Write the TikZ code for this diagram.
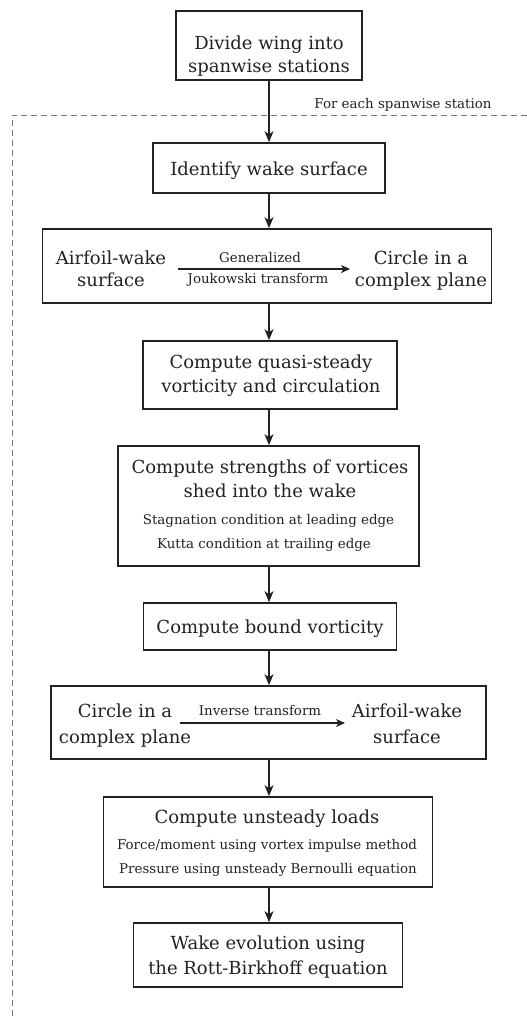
\documentclass[tikz,border=0pt]{standalone}
\usepackage{fontspec}
\setmainfont{DejaVu Serif}
\usetikzlibrary{arrows.meta}
\definecolor{ink}{HTML}{222222}
\definecolor{dashgray}{HTML}{777777}
\newcommand{\bigtxt}{\fontsize{18}{22}\selectfont}
\newcommand{\smtxt}{\fontsize{13.4}{16}\selectfont}
\tikzset{
  stepbox/.style={draw=ink, line width=1.6pt, rectangle, inner sep=0pt},
  bt/.style={anchor=base, text=ink, font=\bigtxt, inner sep=0pt},
  st/.style={anchor=base, text=ink, font=\smtxt, inner sep=0pt},
  flow/.style={draw=ink, line width=1.2pt, -{Stealth[length=11pt,width=9pt,inset=3pt]}},
  inflow/.style={draw=ink, line width=1.2pt, -{Stealth[length=9pt,width=8pt,inset=2.5pt]}},
}
\begin{document}
\begin{tikzpicture}[x=1pt,y=-1pt]
\useasboundingbox (0,0) rectangle (527,1018);
% dashed loop frame
\draw[dashgray, line width=0.9pt, dash pattern=on 6pt off 4pt] (527,115) -- (12,115) -- (12,1018);
\node[st] (loop) at (403,108) {For each spanwise station};
% boxes
\node[stepbox, minimum width=186pt, minimum height=69pt] (b1) at (269,45.5) {};
\node[stepbox, minimum width=232pt, minimum height=50pt] (b2) at (269,168) {};
\node[stepbox, minimum width=449pt, minimum height=74pt] (b3) at (267,266) {};
\node[stepbox, minimum width=254pt, minimum height=68pt] (b4) at (270,375) {};
\node[stepbox, minimum width=301pt, minimum height=120pt] (b5) at (268.5,506) {};
\node[stepbox, minimum width=253pt, minimum height=47pt] (b6) at (270,626.5) {};
\node[stepbox, minimum width=435pt, minimum height=73pt] (b7) at (268.5,722.5) {};
\node[stepbox, minimum width=329pt, minimum height=90pt] (b8) at (268,842) {};
\node[stepbox, minimum width=269pt, minimum height=64pt] (b9) at (268,955) {};
% texts
\node[bt] (t1a) at (269,49) {Divide wing into};
\node[bt] (t1b) at (269,72) {spanwise stations};
\node[bt] (t2) at (269,175) {Identify wake surface};
\node[bt] (t3a) at (111,264) {Airfoil-wake};
\node[bt] (t3b) at (111,286) {surface};
\node[bt] (t3c) at (421,264) {Circle in a};
\node[bt] (t3d) at (421,286) {complex plane};
\coordinate (j1) at (178,269);
\coordinate (j2) at (350,269);
\draw[inflow] (j1) -- (j2);
\node[st] (t3e) at (260,262) {Generalized};
\node[st] (t3f) at (258,283) {Joukowski transform};
\node[bt] (t4a) at (271,368) {Compute quasi-steady};
\node[bt] (t4b) at (271,392) {vorticity and circulation};
\node[bt] (t5a) at (270,473) {Compute strengths of vortices};
\node[bt] (t5b) at (270,497) {shed into the wake};
\node[st] (t5c) at (268.5,524) {Stagnation condition at leading edge};
\node[st] (t5d) at (264,548) {Kutta condition at trailing edge};
\node[bt] (t6) at (270,633) {Compute bound vorticity};
\node[bt] (t7a) at (125,717) {Circle in a};
\node[bt] (t7b) at (125,743) {complex plane};
\node[bt] (t7c) at (407,717) {Airfoil-wake};
\node[bt] (t7d) at (407,743) {surface};
\coordinate (i1) at (180,723);
\coordinate (i2) at (345,723);
\draw[inflow] (i1) -- (i2);
\node[st] (t7e) at (260,715) {Inverse transform};
\node[bt] (t8a) at (267,823) {Compute unsteady loads};
\node[st] (t8b) at (267,849) {Force/moment using vortex impulse method};
\node[st] (t8c) at (268,873) {Pressure using unsteady Bernoulli equation};
\node[bt] (t9a) at (268,949) {Wake evolution using};
\node[bt] (t9b) at (268,974) {the Rott-Birkhoff equation};
% connectors
\coordinate (ax) at (269,0);
\foreach \a/\b in {b1/b2,b2/b3,b3/b4,b4/b5,b5/b6,b6/b7,b7/b8,b8/b9}{
  \draw[flow] (ax |- \a.south) -- (ax |- \b.north);
}
\end{tikzpicture}
\end{document}
